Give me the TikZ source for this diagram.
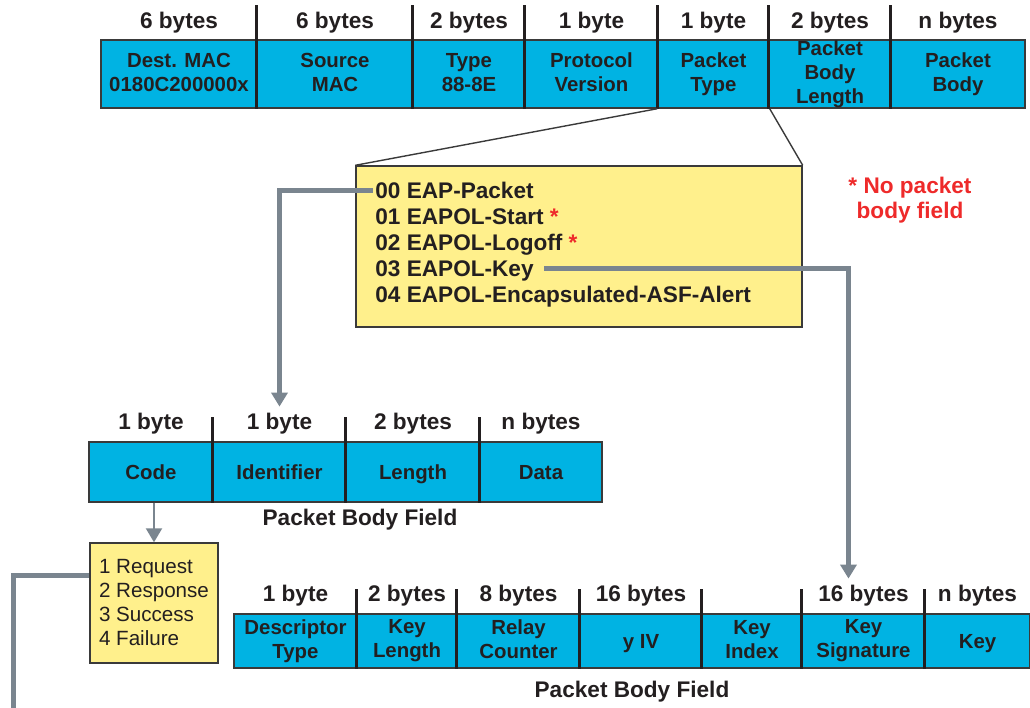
\documentclass[tikz,border=0pt]{standalone}
\usepackage{fontspec}
\setmainfont{Liberation Sans}
\usepackage{tikz}
\usetikzlibrary{arrows.meta,positioning}
\definecolor{fieldblue}{HTML}{00B3E3}
\definecolor{listyellow}{HTML}{FFF08C}
\definecolor{flowgray}{HTML}{7A858F}
\definecolor{inkdark}{HTML}{231F20}
\definecolor{alertred}{HTML}{EE2A2A}
\definecolor{boxline}{HTML}{3A3A3A}

\begin{document}
\begin{tikzpicture}[x=0.5pt, y=-0.5pt, >={Triangle[length=7pt,width=8pt]},
  field/.style={draw=boxline, line width=0.7pt, fill=fieldblue, inner sep=0pt, align=center, text=inkdark,
    font=\bfseries\fontsize{10.2}{12}\selectfont, execute at begin node={\rule{0pt}{9.3pt}}, execute at end node={\rule[-2pt]{0pt}{2pt}}},
  size/.style={font=\bfseries\fontsize{11.3}{13}\selectfont, text=inkdark, text height=8pt, text depth=0pt, inner sep=3pt},
  divider/.style={draw=inkdark, line width=1.5pt},
  listbox/.style={draw=boxline, line width=0.7pt, fill=listyellow},
  item/.style={font=\bfseries\fontsize{11.3}{13}\selectfont, text=inkdark, text height=8pt, text depth=0pt, inner xsep=1pt, anchor=base west},
  flow/.style={draw=flowgray, line width=2.5pt},
  caption/.style={font=\bfseries\fontsize{11.3}{13}\selectfont, text=inkdark}]
\useasboundingbox (0,0) rectangle (1030,708);
% EAPOL frame
\foreach \n/\xa/\xb/\txt/\sz in {h1/101/257/{Dest. MAC\\0180C200000x}/6 bytes, h2/257/413/{Source\\MAC}/6 bytes,
  h3/413/525/{Type\\88-8E}/2 bytes, h4/525/658/{Protocol\\Version}/1 byte, h5/658/769/{Packet\\Type}/1 byte,
  h6/769/891/{Packet\\Body\\Length}/2 bytes, h7/891/1025/{Packet\\Body}/n bytes} {
  \pgfmathsetmacro\w{(\xb-\xa)/2}
  \node[field, minimum width=\w pt, minimum height=34pt] (\n) at ({(\xa+\xb)/2},74) {\txt};
  \node[size] (sz\n) at ({(\xa+\xb)/2},20) {\sz};
}
\foreach \n in {h2,h3,h4,h5,h6,h7}
  \draw[divider] ([yshift=17pt]\n.north west) -- (\n.south west);
% packet types
\node[listbox, minimum width=223pt, minimum height=80.5pt] (types) at (579,246.5) {};
\draw[boxline, line width=0.7pt] (h5.south west) -- (types.north west);
\draw[boxline, line width=0.7pt] (h5.south east) -- (types.north east);
\foreach \i/\y/\t in {0/198/{00 EAP-Packet},1/224/{01 EAPOL-Start {\color{alertred}*}},2/250/{02 EAPOL-Logoff {\color{alertred}*}},3/276/{03 EAPOL-Key},4/302/{04 EAPOL-Encapsulated-ASF-Alert}}
  \node[item] (t\i) at (373,\y) {\t};
\node[font=\bfseries\fontsize{11.3}{12.5}\selectfont, text=alertred, align=center] (nobody) at (910,200) {* No packet\\body field};
% EAP packet
\foreach \n/\xa/\xb/\txt/\sz in {e1/89/213/Code/1 byte, e2/213/346/Identifier/1 byte, e3/346/480/Length/2 bytes, e4/480/602/Data/n bytes} {
  \pgfmathsetmacro\w{(\xb-\xa)/2}
  \node[field, minimum width=\w pt, minimum height=30pt] (\n) at ({(\xa+\xb)/2},472) {\txt};
  \node[size] (sz\n) at ({(\xa+\xb)/2},421) {\sz};
}
\foreach \n in {e2,e3,e4}
  \draw[divider] ([yshift=12pt]\n.north west) -- (\n.south west);
\node[caption] (ecap) at (360,520) {Packet Body Field};
\node[listbox, minimum width=64pt, minimum height=60pt, align=left, text=inkdark, font=\fontsize{10.3}{12}\selectfont] (codes) at (154,603) {1 Request\\2 Response\\3 Success\\4 Failure};
% EAPOL-Key descriptor
\foreach \n/\xa/\xb/\txt/\sz in {k1/234/357/{Descriptor\\Type}/1 byte, k2/357/457/{Key\\Length}/2 bytes, k3/457/580/{Relay\\Counter}/8 bytes,
  k4/580/702/{y IV}/16 bytes, k5/702/802/{Key\\Index}/{}, k6/802/925/{Key\\Signature}/16 bytes, k7/925/1030/Key/n bytes} {
  \pgfmathsetmacro\w{(\xb-\xa)/2}
  \node[field, minimum width=\w pt, minimum height=27pt] (\n) at ({(\xa+\xb)/2},641) {\txt};
  \node[size] (sz\n) at ({(\xa+\xb)/2},593) {\sz};
}
\foreach \n in {k2,k3,k4,k5,k6,k7}
  \draw[divider] ([yshift=12pt]\n.north west) -- (\n.south west);
\node[caption] (kcap) at (632,692) {Packet Body Field};
% connectors
\coordinate (exit) at (13,712);
\draw[flow, ->] (t0.west) -| (sze2.north);
\draw[flow, ->] ([xshift=4pt]t3.east) -| ([xshift=-7.5pt]szk6.north);
\draw[->, draw=flowgray, line width=1pt] (e1.south -| codes.north) -- (codes.north);
\draw[flow] ([yshift=14pt]codes.west) -| (exit);
\end{tikzpicture}
\end{document}
